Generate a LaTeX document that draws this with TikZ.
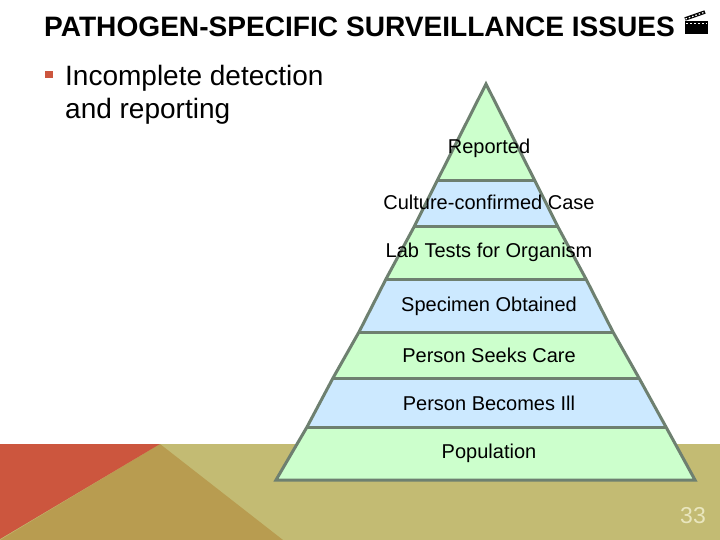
\documentclass[tikz,border=0pt]{standalone}
\usepackage{fontspec}
\setmainfont{Liberation Sans}
\usetikzlibrary{positioning}
\definecolor{sand}{HTML}{C3BB73}
\definecolor{ochre}{HTML}{B89C50}
\definecolor{brick}{HTML}{CC563E}
\definecolor{palegreen}{HTML}{CCFFCC}
\definecolor{paleblue}{HTML}{CCE9FF}
\definecolor{edgegrey}{HTML}{6E8070}
\definecolor{pagenum}{HTML}{E9E6BE}
\begin{document}
\begin{tikzpicture}[x=1pt,y=-1pt,
    band/.style={draw=edgegrey,line width=3pt,line join=miter},
    level/.style={font=\fontsize{20}{22}\selectfont,inner sep=0pt,anchor=base}]
    \useasboundingbox (0,0) rectangle (720,540);%
    \fill[white] (0,0) rectangle (720,540);%
    \fill[sand] (0,444) rectangle (720,540);%
    \fill[ochre] (160,444) -- (283,540) -- (0,540) -- cycle;%
    \fill[brick] (0,444) -- (160,444) -- (0,539) -- cycle;%
    % band corners, top to bottom
    \foreach \i/\yi/\xl/\xr in {0/84/486/486,1/181/437/535,2/227/414/558,3/279/386/586,
      4/332/359/613,5/378/333/639,6/427/307/666,7/480/276/695}{
      \coordinate (l\i) at (\xl,\yi);%
      \coordinate (r\i) at (\xr,\yi);%
    }
    \foreach \i/\j/\fillcol in {0/1/palegreen,1/2/paleblue,2/3/palegreen,3/4/paleblue,
      4/5/palegreen,5/6/paleblue,6/7/palegreen}{
      \fill[\fillcol] (l\i) -- (l\j) -- (r\j) -- (r\i) -- cycle;%
    }
    \foreach \i in {1,...,6}{
      \draw[band] (l\i) -- (r\i);%
    }
    \draw[band] (l0) -- (l1) -- (l2) -- (l3) -- (l4) -- (l5) -- (l6) -- (l7)
    -- (r7) -- (r6) -- (r5) -- (r4) -- (r3) -- (r2) -- (r1) -- cycle;%
    \node[level] (reported) at (489,154) {Reported};%
    \node[level] (culture) at (489,210) {Culture-confirmed Case};%
    \node[level] (labtests) at (489,258) {Lab Tests for Organism};%
    \node[level] (specimen) at (489,311) {Specimen Obtained};%
    \node[level] (seekscare) at (489,362) {Person Seeks Care};%
    \node[level] (becomesill) at (489,410) {Person Becomes Ill};%
    \node[level] (population) at (489,458) {Population};%
    \node[anchor=west,inner sep=0pt,font=\bfseries\fontsize{28.1}{30}\selectfont] (title) at (44,27)
    {PATHOGEN-SPECIFIC SURVEILLANCE ISSUES};%
    \fill[brick] (45,71) rectangle (53,78);%
    \node[anchor=north west,inner sep=0pt,align=left,font=\fontsize{28}{33}\selectfont] (bullet) at (65,65)
    {Incomplete detection\\and reporting};%
    \node[anchor=center,inner sep=0pt,text=pagenum,font=\fontsize{23}{25}\selectfont] (pageno) at (693,516) {33};%
    % clapperboard
    \fill[black] (685,21) rectangle (708,34);%
    \draw[black,line width=3.5pt] (685,19) -- (705,12);%
    \draw[white,line width=1.2pt,dash pattern=on 1.5pt off 2pt] (685.5,19) -- (704.5,12.2);%
    \draw[white,line width=.7pt,dash pattern=on 2pt off 2pt] (686,23) -- (707,23);%
  \end{tikzpicture}
\end{document}
